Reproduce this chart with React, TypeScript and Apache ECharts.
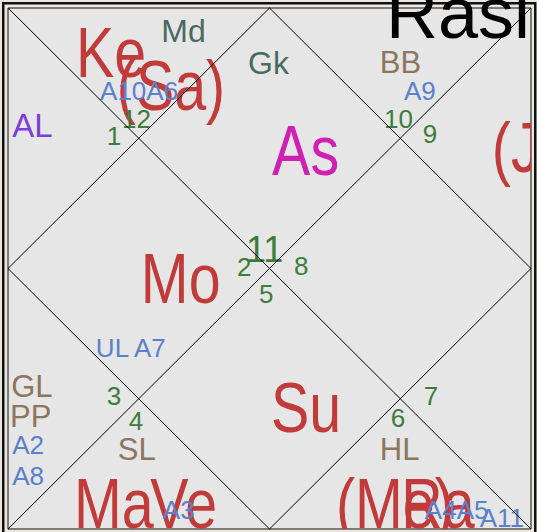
import { useEffect, useRef } from 'react';
import * as echarts from 'echarts';

// ---- chart content (North Indian style Rasi chart) ----
const chartTitle = 'Rasi';

// planets (red), drawn in this order so later ones overlap earlier ones
const planetLabels = ['Ke', '(Sa)', '(J', 'Mo', 'Su', 'Ma', 'Ve', '(Me)', 'Ra'];
const planetPos = [
  [13.0, 13.2], [20.8, 19.6], [92.5, 31.5], [25.4, 56.6], [50.3, 81.4],
  [12.6, 99.8], [27.2, 99.8], [62.7, 99.8], [75.2, 99.8],
];

// ascendant
const ascLabels = ['As'];
const ascPos = [[50.5, 32.1]];

// upagrahas
const upagrahaLabels = ['Md', 'Gk'];
const upagrahaPos = [[29.3, 6.5], [45.9, 12.7]];

// special lagnas
const lagnaLabels = ['BB', 'GL', 'PP', 'SL', 'HL'];
const lagnaPos = [[71.1, 12.5], [0.6, 74.7], [0.4, 80.4], [21.0, 86.8], [71.1, 86.8]];

// arudha lagna
const alLabels = ['AL'];
const alPos = [[0.8, 24.8]];

// arudhas
const arudhaLabels = ['A10A6', 'A9', 'UL A7', 'A2', 'A8', 'A3', 'A4A5', 'A11'];
const arudhaPos = [
  [17.6, 17.7], [75.7, 17.7], [16.8, 67.0], [0.8, 85.6], [0.8, 91.6],
  [29.6, 98.1], [79.7, 98.1], [90.2, 99.6],
];

// sign numbers in the houses
const signLabels = ['1', '12', '10', '9', '2', '8', '5', '3', '4', '7', '6'];
const signPos = [
  [18.9, 26.3], [21.8, 23.0], [71.9, 23.0], [79.3, 25.9], [43.8, 51.4],
  [54.7, 51.2], [48.0, 56.6], [18.9, 76.2], [23.1, 81.0], [79.5, 76.2], [73.2, 80.4],
];
const lagnaSignLabels = ['11'];
const lagnaSignPos = [[45.5, 48.8]];

// chart frame segments (diagonals + inner diamond), in chart units 0..100
const frameSegments = [
  [0, 0, 100, 100], [100, 0, 0, 100],
  [50, 0, 100, 50], [100, 50, 50, 100], [50, 100, 0, 50], [0, 50, 50, 0],
];

const FONT = '"Liberation Sans", Arial, sans-serif';

type Group = { labels: string[]; pos: number[][]; color: string; size: number; scaleX: number };

const groups: Group[] = [
  { labels: planetLabels, pos: planetPos, color: '#c23b3b', size: 70, scaleX: 0.82 },
  { labels: ascLabels, pos: ascPos, color: '#d020b4', size: 70, scaleX: 0.82 },
  { labels: upagrahaLabels, pos: upagrahaPos, color: '#4a6a64', size: 32, scaleX: 1 },
  { labels: lagnaLabels, pos: lagnaPos, color: '#8c7660', size: 31, scaleX: 1 },
  { labels: alLabels, pos: alPos, color: '#7b3fd8', size: 33, scaleX: 1 },
  { labels: arudhaLabels, pos: arudhaPos, color: '#5b80cc', size: 26, scaleX: 1 },
  { labels: signLabels, pos: signPos, color: '#3c7d3c', size: 26, scaleX: 1 },
  { labels: lagnaSignLabels, pos: lagnaSignPos, color: '#3c7d3c', size: 36, scaleX: 1 },
];

export default function App() {
  const ref = useRef<HTMLDivElement>(null);
  useEffect(() => {
    if (!ref.current) return;
    const chart = echarts.init(ref.current, undefined, { renderer: 'svg' });

    const textSeries = groups.map((g) => ({
      type: 'custom',
      coordinateSystem: 'cartesian2d',
      clip: true,
      silent: true,
      z: 2,
      data: g.pos,
      renderItem: (params: any, api: any) => {
        const p = api.coord([api.value(0), api.value(1)]);
        return {
          type: 'text',
          x: p[0],
          y: p[1] - 0.347 * g.size,
          scaleX: g.scaleX,
          style: {
            text: g.labels[params.dataIndex],
            fill: g.color,
            fontSize: g.size,
            fontFamily: FONT,
            align: 'left',
            verticalAlign: 'middle',
          },
        };
      },
    }));

    const lineSeries = {
      type: 'custom',
      coordinateSystem: 'cartesian2d',
      silent: true,
      z: 5,
      encode: { x: [0, 2], y: [1, 3] },
      data: frameSegments,
      renderItem: (params: any, api: any) => {
        const a = api.coord([api.value(0), api.value(1)]);
        const b = api.coord([api.value(2), api.value(3)]);
        return {
          type: 'line',
          shape: { x1: a[0], y1: a[1], x2: b[0], y2: b[1] },
          style: { stroke: '#000', lineWidth: 1 },
        };
      },
    };

    chart.setOption({
      animation: false,
      backgroundColor: '#ece8e1',
      title: {
        text: chartTitle,
        left: 386,
        top: -23,
        padding: 0,
        z: 10,
        textStyle: { fontSize: 72, fontWeight: 'normal', color: '#000', fontFamily: FONT },
      },
      graphic: [
        {
          type: 'rect',
          z: 0,
          silent: true,
          shape: { x: 3.25, y: 3.25, width: 532, height: 532 },
          style: { fill: 'none', stroke: '#111', lineWidth: 2.5 },
        },
      ],
      grid: {
        left: 8,
        top: 8,
        width: 523,
        height: 521,
        show: true,
        backgroundColor: '#e6e6e6',
        borderColor: '#111',
        borderWidth: 1,
      },
      xAxis: { type: 'value', min: 0, max: 100, show: false },
      yAxis: { type: 'value', min: 0, max: 100, inverse: true, show: false },
      series: [...textSeries, lineSeries],
    });
    return () => chart.dispose();
  }, []);
  return (
    <div
      ref={ref}
      style={{ position: 'fixed', left: 0, top: 0, width: 537, height: 532 }}
    />
  );
}
